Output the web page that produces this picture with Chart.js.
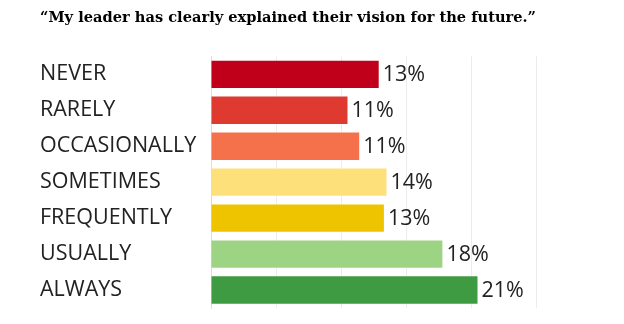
<!DOCTYPE html>
<html>
<head>
<meta charset="utf-8">
<script src="https://cdn.jsdelivr.net/npm/chart.js@4/dist/chart.umd.min.js"></script>
<style>
  html, body { margin: 0; padding: 0; background: #fff; }
  #wrap { width: 624px; height: 324px; position: relative; }
</style>
</head>
<body>
<div id="wrap"><canvas id="chart"></canvas></div>
<script>
const title = "\u201cMy leader has clearly explained their vision for the future.\u201d";
const categories = ["NEVER", "RARELY", "OCCASIONALLY", "SOMETIMES", "FREQUENTLY", "USUALLY", "ALWAYS"];
const shares = [12.9, 10.5, 11.4, 13.5, 13.3, 17.8, 20.5];
const shareLabels = ["13%", "11%", "11%", "14%", "13%", "18%", "21%"];
const barColors = ["#c0001b", "#de3a2f", "#f5714b", "#fde07a", "#eec400", "#9dd484", "#3f9b42"];
const xTicks = [0, 5, 10, 15, 20, 25];

const labelFont = "'Open Sans', sans-serif";

// writes the percentage just past the end of each bar
const valueLabels = {
  id: "valueLabels",
  afterDatasetsDraw(chart) {
    const ctx = chart.ctx;
    const meta = chart.getDatasetMeta(0);
    ctx.save();
    ctx.font = "21.5px " + labelFont;
    ctx.fillStyle = "#222";
    ctx.textBaseline = "middle";
    ctx.textAlign = "left";
    meta.data.forEach((bar, i) => {
      ctx.fillText(shareLabels[i], bar.x + 4, bar.y + 1);
    });
    ctx.restore();
  },
};

new Chart(document.getElementById("chart"), {
  type: "bar",
  data: {
    labels: categories,
    datasets: [
      {
        data: shares,
        backgroundColor: barColors,
        borderWidth: 0,
        barPercentage: 0.76,
        categoryPercentage: 1,
      },
    ],
  },
  options: {
    indexAxis: "y",
    responsive: true,
    maintainAspectRatio: false,
    animation: false,
    layout: { padding: { left: 40, right: 88, top: 0, bottom: 16 } },
    plugins: {
      legend: { display: false },
      tooltip: { enabled: false },
      title: {
        display: true,
        text: title,
        align: "start",
        color: "#000",
        font: { family: "'DejaVu Serif', serif", size: 15.3, weight: "bold" },
        padding: { top: 9, bottom: 29 },
      },
    },
    scales: {
      x: {
        min: 0,
        max: 25,
        afterBuildTicks: (scale) => {
          scale.ticks = xTicks.map((v) => ({ value: v }));
        },
        ticks: { display: false },
        grid: { color: "#ececec", drawTicks: false },
        border: { display: false },
      },
      y: {
        afterFit: (scale) => {
          scale.width = 171;
        },
        ticks: {
          crossAlign: "far",
          color: "#222",
          font: { family: labelFont, size: 21.5 },
          padding: 0,
        },
        grid: { display: false },
        border: { display: true, color: "#dddddd" },
      },
    },
  },
  plugins: [valueLabels],
});
</script>
</body>
</html>
